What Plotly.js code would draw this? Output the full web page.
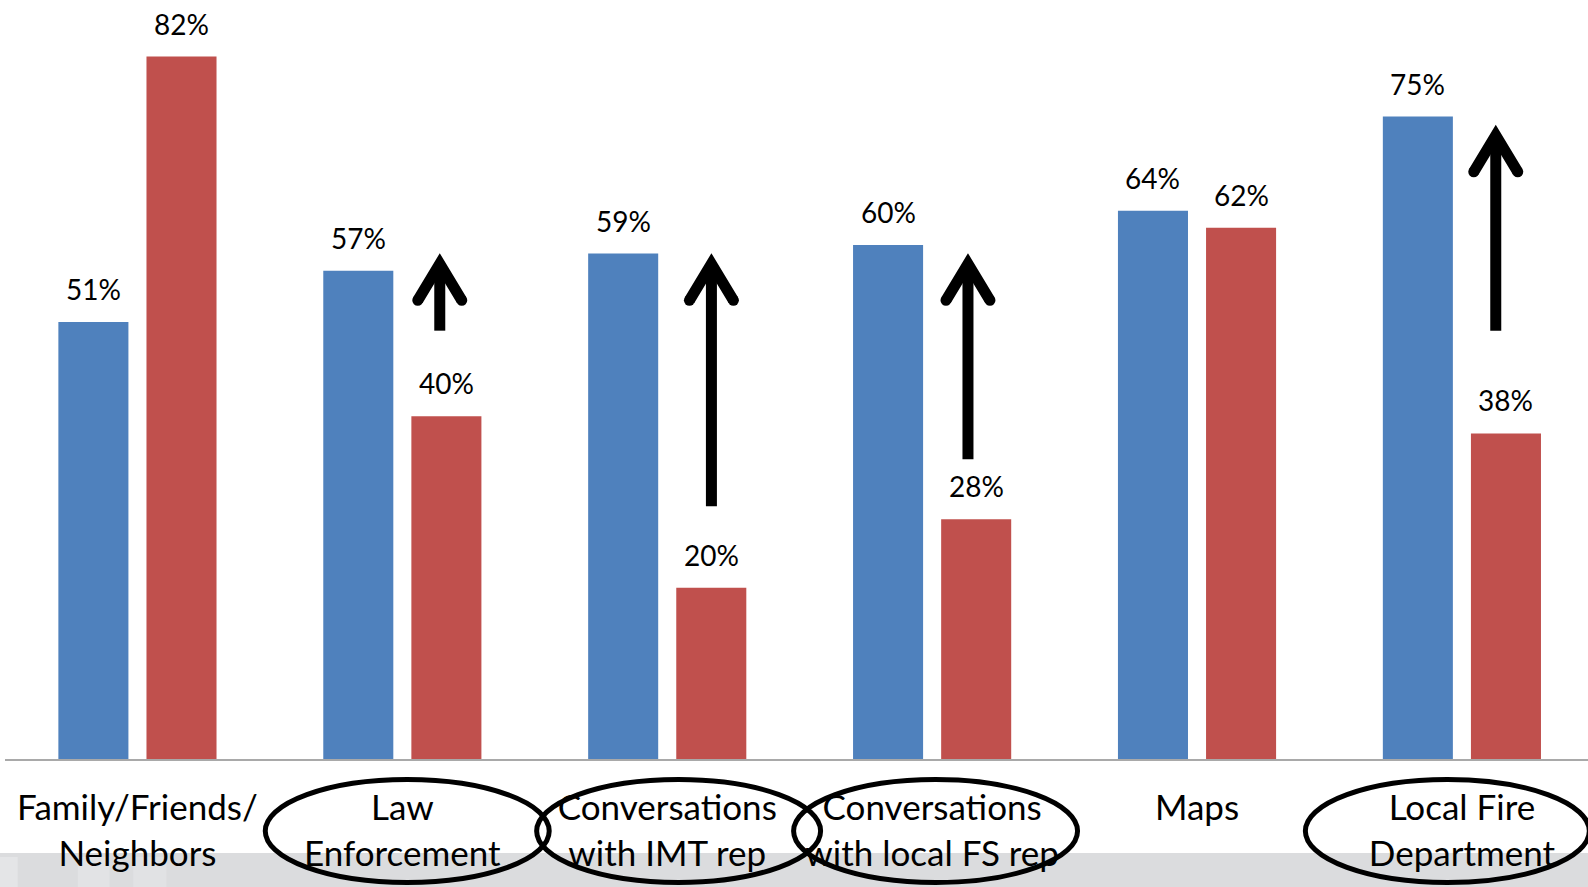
<!DOCTYPE html>
<html>
<head>
<meta charset="utf-8">
<script src="https://cdn.plot.ly/plotly-3.0.1.min.js"></script>
<style>
  html, body { margin: 0; padding: 0; background: #ffffff; }
  #chart { width: 1588px; height: 887px; }
</style>
</head>
<body>
<div id="chart"></div>
<script>
// Information sources, two survey series (percent of respondents)
const categories = [
  "Family/Friends/<br>Neighbors",
  "Law<br>Enforcement",
  "Conversations<br>with IMT rep",
  "Conversations<br>with local FS rep",
  "Maps",
  "Local Fire<br>Department"
];
const series1 = [51, 57, 59, 60, 64, 75];
const series2 = [82, 40, 20, 28, 62, 38];

// Upward arrows: category index, start value, end value
const arrowCategory = [1, 2, 3, 5];
const arrowFrom = [50.0, 29.5, 35.0, 50.0];
const arrowTo = [57.8, 57.8, 57.8, 72.8];

// Circled categories
const circledCategory = [1, 2, 3, 5];

const BLUE = "#4f81bd";
const RED = "#c0504d";
const FONT = "Lato, 'Open Sans', sans-serif";
const BARGAP = 0.3348;
const BARGROUPGAP = 0.205;
const halfSlot = (1 - BARGAP) / 4;

const xIdx = categories.map((_, i) => i);

const traces = [
  { type: "bar", name: "Series 1", x: xIdx, y: series1,
    marker: { color: BLUE }, hoverinfo: "y" },
  { type: "bar", name: "Series 2", x: xIdx, y: series2,
    marker: { color: RED }, hoverinfo: "y" }
];

// value labels above each bar
const annotations = [];
[series1, series2].forEach((vals, s) => {
  vals.forEach((v, i) => {
    annotations.push({
      x: i + (s === 0 ? -halfSlot : halfSlot), y: v,
      xref: "x", yref: "y",
      text: v + "%", showarrow: false,
      yanchor: "bottom", yshift: 14,
      font: { family: FONT, size: 28, color: "#000000" }
    });
  });
});

const shapes = [];

// grey strip along the bottom edge
shapes.push({ type: "rect", xref: "paper", yref: "paper", layer: "below",
  x0: -0.01, x1: 1.01, y0: -0.2, y1: -0.1238,
  fillcolor: "#dbdcde", line: { width: 0 } });
[[-0.01, 0.008, "#e4e5e7"], [0.046, 0.066, "#e2e3e5"], [0.081, 0.102, "#e1e2e4"]]
  .forEach(([a, b, c]) => shapes.push({ type: "rect", xref: "paper", yref: "paper", layer: "below",
    x0: a, x1: b, y0: -0.2, y1: -0.129, fillcolor: c, line: { width: 0 } }));

// ellipses around selected category labels
const ellipseHalfWidth = 0.536;
const ellipseOffset = [0, 0.0185, 0.043, 0.013, 0, -0.055];
circledCategory.forEach(c => {
  const cx = c + ellipseOffset[c];
  shapes.push({ type: "circle", xref: "x", yref: "paper",
    x0: cx - ellipseHalfWidth, x1: cx + ellipseHalfWidth,
    y0: -0.1627, y1: -0.027,
    line: { color: "#000000", width: 5 }, fillcolor: "rgba(0,0,0,0)" });
});

// arrows: shaft plus open chevron head with rounded wing ends
const arrowShift = [0, -0.025, 0.0005, -0.031, 0, -0.0385];
arrowCategory.forEach((c, k) => {
  const ax = c + halfSlot + arrowShift[c];
  shapes.push({ type: "line", xref: "x", yref: "y",
    x0: ax, x1: ax, y0: arrowFrom[k], y1: arrowTo[k],
    line: { color: "#000000", width: 11 } });
  shapes.push({ type: "path", xref: "x", yref: "y",
    xsizemode: "pixel", ysizemode: "pixel", xanchor: ax, yanchor: arrowTo[k],
    path: "M-22,-36.5L0,0L22,-36.5",
    line: { color: "#000000", width: 11 } });
  [-22, 22].forEach(dx => shapes.push({ type: "circle", xref: "x", yref: "y",
    xsizemode: "pixel", ysizemode: "pixel", xanchor: ax, yanchor: arrowTo[k],
    x0: dx - 5.5, x1: dx + 5.5, y0: -36.5 - 5.5, y1: -36.5 + 5.5,
    fillcolor: "#000000", line: { width: 0 } }));
});

const layout = {
  width: 1588, height: 887,
  margin: { l: 5, r: 0, t: 0, b: 128, pad: 0 },
  paper_bgcolor: "#ffffff", plot_bgcolor: "#ffffff",
  showlegend: false,
  barmode: "group", bargap: BARGAP, bargroupgap: BARGROUPGAP,
  font: { family: FONT, color: "#000000" },
  xaxis: {
    type: "linear", range: [-0.5, 5.476],
    tickmode: "array", tickvals: xIdx, ticktext: categories,
    showgrid: false, zeroline: false,
    showline: true, linecolor: "#a9a9a9", linewidth: 2,
    ticks: "outside", ticklen: 17, tickcolor: "rgba(0,0,0,0)",
    tickfont: { family: FONT, size: 35, color: "#000000" },
    fixedrange: true
  },
  yaxis: {
    range: [0, 88.6], visible: false, showgrid: false, zeroline: false,
    fixedrange: true
  },
  annotations: annotations,
  shapes: shapes
};

Plotly.newPlot("chart", traces, layout, { displayModeBar: false, staticPlot: true });
</script>
</body>
</html>
